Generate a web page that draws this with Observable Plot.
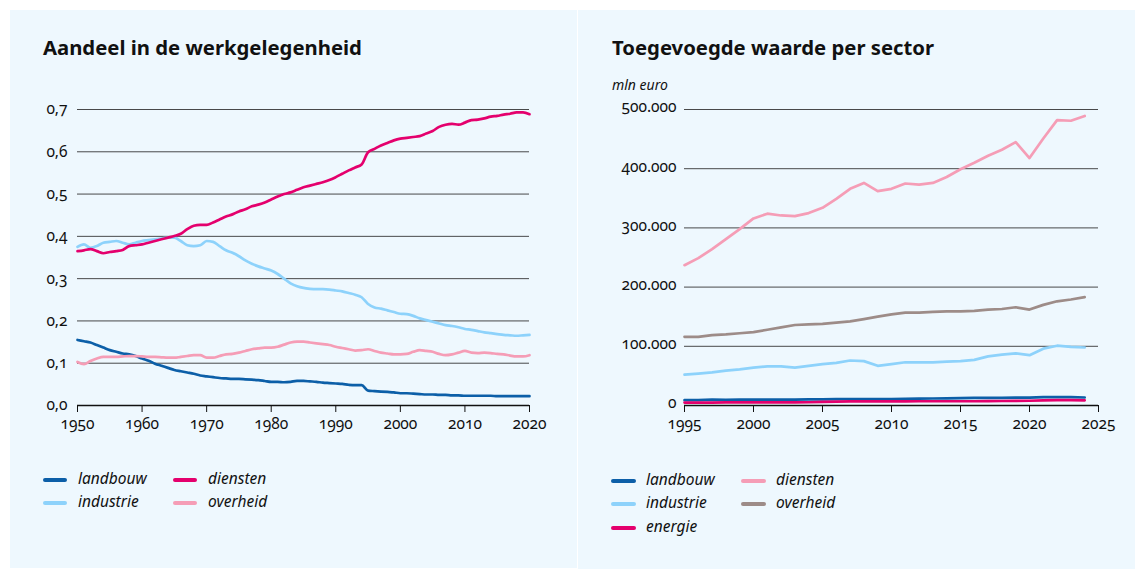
<!DOCTYPE html>
<html><head><meta charset="utf-8">
<script src="https://cdn.jsdelivr.net/npm/d3@7"></script>
<script src="https://cdn.jsdelivr.net/npm/@observablehq/plot@0.6"></script>
<style>
html,body{margin:0;padding:0;}
body{background:#fff;width:1135px;height:569px;position:relative;overflow:hidden;font-family:"Noto Sans",sans-serif;color:#111;}
.panel{position:absolute;background:#eef8fe;}
.title{position:absolute;font-weight:700;font-size:20.3px;line-height:20px;white-space:nowrap;}
.unit{position:absolute;font-style:italic;font-size:14px;line-height:14px;}
.chart{position:absolute;}
.chart svg text{font-variant-numeric:oldstyle-nums;}
.leg{position:absolute;font-style:italic;font-size:15.5px;line-height:15px;white-space:nowrap;}
.sw{position:absolute;height:3.5px;border-radius:2px;}
</style>
</head><body>
<div class="panel" style="left:10px;top:10px;width:567px;height:558px"></div>
<div class="panel" style="left:578px;top:10px;width:557px;height:559px"></div>
<div class="title" style="left:43px;top:37px">Aandeel in de werkgelegenheid</div>
<div class="title" style="left:612px;top:37px">Toegevoegde waarde per sector</div>
<div class="unit" style="left:612px;top:78px">mln euro</div>
<div id="c1" class="chart" style="left:10px;top:90px"></div>
<div id="c2" class="chart" style="left:590px;top:90px"></div>
<div id="leg"></div>
<script>
// ---------- Left chart: share of employment ----------
const yearsL = [1950,1951,1952,1953,1954,1955,1956,1957,1958,1959,
  1960,1961,1962,1963,1964,1965,1966,1967,1968,1969,
  1970,1971,1972,1973,1974,1975,1976,1977,1978,1979,
  1980,1981,1982,1983,1984,1985,1986,1987,1988,1989,
  1990,1991,1992,1993,1994,1995,1996,1997,1998,1999,
  2000,2001,2002,2003,2004,2005,2006,2007,2008,2009,
  2010,2011,2012,2013,2014,2015,2016,2017,2018,2019,
  2020];
const landbouwL = [.155,.152,.149,.143,.137,.131,.127,.123,.121,.117,
  .111,.106,.099,.094,.089,.084,.081,.078,.075,.071,
  .069,.067,.065,.064,.063,.063,.062,.061,.060,.058,
  .056,.056,.055,.056,.058,.058,.057,.056,.054,.053,
  .052,.051,.049,.048,.048,.035,.034,.033,.032,.031,
  .029,.029,.028,.027,.026,.026,.025,.025,.024,.024,
  .023,.023,.023,.023,.023,.022,.022,.022,.022,.022,
  .022];
const industrieL = [.375,.381,.373,.377,.385,.387,.389,.385,.381,.385,
  .389,.391,.393,.395,.397,.397,.389,.379,.377,.379,
  .389,.387,.377,.367,.361,.353,.343,.335,.329,.324,
  .319,.311,.300,.289,.282,.278,.276,.275,.275,.274,
  .272,.270,.266,.262,.256,.240,.232,.229,.225,.221,
  .217,.216,.212,.206,.202,.198,.194,.190,.188,.185,
  .181,.179,.176,.173,.171,.169,.167,.166,.165,.166,
  .167];
const dienstenL = [.365,.367,.370,.365,.360,.363,.365,.368,.377,.379,
  .381,.385,.389,.393,.397,.401,.406,.417,.425,.427,
  .427,.433,.440,.447,.452,.459,.464,.471,.475,.480,
  .487,.494,.500,.504,.510,.516,.520,.524,.528,.533,
  .540,.548,.556,.563,.570,.599,.607,.615,.621,.627,
  .631,.633,.635,.637,.643,.649,.659,.664,.666,.664,
  .669,.675,.676,.679,.683,.685,.688,.690,.693,.693,
  .689];
const overheidL = [.103,.098,.105,.111,.115,.115,.115,.116,.117,.117,
  .116,.115,.115,.114,.113,.113,.115,.117,.119,.119,
  .113,.113,.117,.121,.122,.125,.129,.133,.135,.137,
  .137,.139,.144,.149,.151,.151,.149,.147,.145,.143,
  .139,.136,.133,.130,.131,.133,.129,.125,.123,.121,
  .121,.122,.127,.131,.129,.127,.122,.119,.121,.125,
  .129,.125,.124,.125,.124,.122,.121,.118,.116,.116,
  .119];
const seriesL = ["landbouw","industrie","diensten","overheid"];
const colorsL = ["#0c5fa8","#8dd2fb","#e4006d","#f59db6"];
const xTicksL = [1950,1960,1970,1980,1990,2000,2010,2020];
const yTicksL = [0,0.1,0.2,0.3,0.4,0.5,0.6,0.7];

// ---------- Right chart: value added per sector (mln euro) ----------
const yearsR = [1995,1996,1997,1998,1999,2000,2001,2002,2003,2004,
  2005,2006,2007,2008,2009,2010,2011,2012,2013,2014,
  2015,2016,2017,2018,2019,2020,2021,2022,2023,2024];
const landbouwR = [9000,9200,9800,9400,9800,10000,10000,10000,10000,10200,
  10400,10800,11000,11000,10800,11000,11200,11600,11800,12000,
  12600,12800,13000,13000,13200,13200,14000,14200,14000,13500];
const industrieR = [52000,54000,56000,59000,61000,64000,66000,66000,64000,67000,
  70000,72000,76000,75000,67000,70000,73000,73000,73000,74000,
  75000,77000,83000,86000,88000,85000,96000,101000,99000,98000];
const energieR = [5000,5000,5000,5200,5200,5200,5300,5300,5400,5500,
  6200,6400,6800,7000,7000,7000,7000,7200,7200,7200,
  7200,7200,7400,7600,7800,8000,8600,9000,9000,8800];
const dienstenR = [237000,249000,264000,281000,298000,316000,324000,321000,320000,325000,
  334000,349000,366000,376000,362000,366000,375000,373000,376000,386000,
  399000,410000,422000,432000,445000,418000,451000,482000,481000,489000];
const overheidR = [116000,116000,119000,120000,122000,124000,128000,132000,136000,137000,
  138000,140000,142000,146000,150000,154000,157000,157000,158000,159000,
  159000,160000,162000,163000,166000,162000,170000,176000,179000,183000];
const seriesR = ["landbouw","industrie","energie","diensten","overheid"];
const colorsR = ["#0c5fa8","#8dd2fb","#e4006d","#f59db6","#9d8c88"];
const xTicksR = [1995,2000,2005,2010,2015,2020,2025];
const yTicksR = [0,100000,200000,300000,400000,500000];

const axisFont = {fontFamily:'"Noto Sans", sans-serif', fontSize:"15.5px", background:"transparent", color:"#111", overflow:"visible"};
const nl = d3.formatLocale({decimal:",", thousands:".", grouping:[3], currency:["€",""]});

function longTable(years, names, arrays){
  const rows = [];
  names.forEach((n, k) => arrays[k].forEach((v, i) => rows.push({year: years[i], value: v, series: n})));
  return rows;
}

const tableL = longTable(yearsL, seriesL, [landbouwL, industrieL, dienstenL, overheidL]);
const chart1 = Plot.plot({
  width: 560, height: 350,
  marginLeft: 67, marginRight: 41, marginTop: 19, marginBottom: 35,
  style: axisFont,
  x: {domain: [1950, 2020]},
  y: {domain: [0, 0.7]},
  color: {domain: seriesL, range: colorsL},
  marks: [
    Plot.ruleY(yTicksL.filter(d => d > 0), {stroke: "#2a2a2a", strokeWidth: 1, strokeOpacity: 0.85}),
    Plot.ruleY([0], {stroke: "#111", strokeWidth: 1.3}),
    Plot.axisX({ticks: xTicksL, tickSize: 7, tickPadding: 5, tickFormat: d => String(d), label: null, stroke: "#111"}),
    Plot.axisY({ticks: yTicksL, tickSize: 0, tickPadding: 10, tickFormat: d => d.toFixed(1).replace(".", ","), label: null}),
    Plot.line(tableL, {x: "year", y: "value", z: "series", stroke: "series", strokeWidth: 2.7, curve: "monotone-x"})
  ]
});
document.getElementById("c1").appendChild(chart1);

const tableR = longTable(yearsR, seriesR, [landbouwR, industrieR, energieR, dienstenR, overheidR]);
const chart2 = Plot.plot({
  width: 540, height: 350,
  marginLeft: 94, marginRight: 32, marginTop: 19, marginBottom: 35,
  style: axisFont,
  x: {domain: [1995, 2025]},
  y: {domain: [0, 500000]},
  color: {domain: seriesR, range: colorsR},
  marks: [
    Plot.ruleY(yTicksR.filter(d => d > 0), {stroke: "#2a2a2a", strokeWidth: 1, strokeOpacity: 0.85}),
    Plot.line(tableR, {x: "year", y: "value", z: "series", stroke: "series", strokeWidth: 2.7}),
    Plot.ruleY([0], {stroke: "#111", strokeWidth: 1.3}),
    Plot.axisX({ticks: xTicksR, tickSize: 7, tickPadding: 5, tickFormat: d => String(d), label: null, stroke: "#111"}),
    Plot.axisY({ticks: yTicksR, tickSize: 0, tickPadding: 8, dy: -2, tickFormat: nl.format(",.0f"), label: null})
  ]
});
document.getElementById("c2").appendChild(chart2);

// ---------- Legends ----------
const leg = document.getElementById("leg");
function addLegend(names, colors, cols){
  names.forEach((n, i) => {
    const c = cols[i];
    const sw = document.createElement("div");
    sw.className = "sw";
    sw.style.cssText = `left:${c.sx}px;top:${c.y - 1.75}px;width:${c.sw}px;background:${colors[i]}`;
    leg.appendChild(sw);
    const t = document.createElement("div");
    t.className = "leg";
    t.style.left = c.tx + "px";
    t.style.top = (c.y - 9) + "px";
    t.textContent = n;
    leg.appendChild(t);
  });
}
addLegend(seriesL, colorsL, [
  {sx:43, sw:24, tx:78, y:480},
  {sx:43, sw:24, tx:78, y:503},
  {sx:173, sw:24, tx:208, y:480},
  {sx:173, sw:24, tx:208, y:503}
]);
addLegend(seriesR, colorsR, [
  {sx:611, sw:25, tx:646, y:481},
  {sx:611, sw:25, tx:646, y:504},
  {sx:611, sw:25, tx:646, y:528},
  {sx:741, sw:25, tx:776, y:481},
  {sx:741, sw:25, tx:776, y:504}
]);
</script>
</body></html>
